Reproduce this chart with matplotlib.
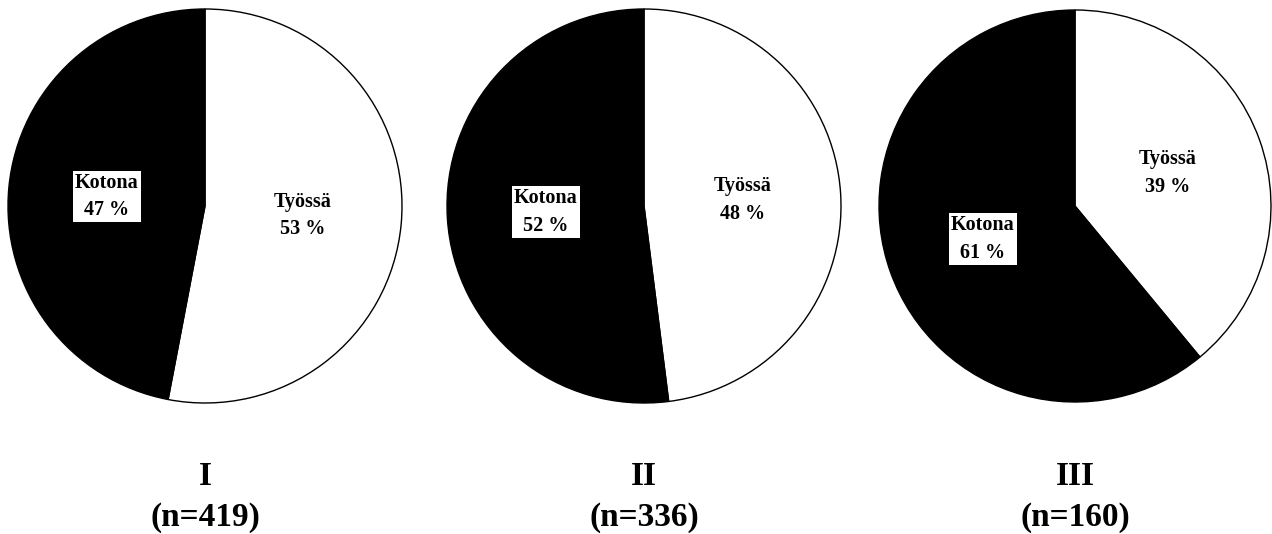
import numpy as np
import matplotlib
matplotlib.use("Agg")
import matplotlib.pyplot as plt

# Share of respondents working at the workplace vs. at home, per group
groups = ["I", "II", "III"]
group_n = [419, 336, 160]
categories = ["Työssä", "Kotona"]
tyossa = [53, 48, 39]
kotona = [47, 52, 61]

W, H = 1272, 534
fig = plt.figure(figsize=(W / 100, H / 100), dpi=100)
fig.patch.set_facecolor("white")

serif = ["Liberation Serif", "DejaVu Serif"]

# pie centres and radii in pixels
centres = [(205, 206), (644, 206), (1075, 206)]
radii = [197, 197, 196]

for i, (cx, cy) in enumerate(centres):
    r = radii[i]
    ax = fig.add_axes([(cx - r) / W, (H - cy - r) / H, 2 * r / W, 2 * r / H])
    values = [tyossa[i], kotona[i]]
    wedges, _ = ax.pie(values, colors=["white", "black"], startangle=90,
                       counterclock=False, radius=1.0,
                       wedgeprops=dict(edgecolor="black", linewidth=1.0))
    ax.set_xlim(-1.0, 1.0)
    ax.set_ylim(-1.0, 1.0)
    ax.set_aspect("equal")
    ax.axis("off")
    for w in wedges:
        w.set_clip_on(False)

    for j, w in enumerate(wedges):
        mid = np.deg2rad((w.theta1 + w.theta2) / 2)
        x, y = 0.5 * np.cos(mid), 0.5 * np.sin(mid)
        txt = f"{categories[j]}\n{values[j]} %"
        kw = dict(ha="center", va="center", fontsize=14.5, fontweight="bold",
                  family=serif, linespacing=1.5, color="black")
        if categories[j] == "Kotona":
            kw["bbox"] = dict(facecolor="white", edgecolor="none", pad=1.5)
        ax.text(x, y, txt, **kw)

    fig.text(cx / W, 1 - 497 / H, f"{groups[i]}\n(n={group_n[i]})",
             ha="center", va="center", fontsize=24, fontweight="bold",
             family=serif, linespacing=1.4)

fig.savefig("out.png", dpi=100, facecolor="white")
